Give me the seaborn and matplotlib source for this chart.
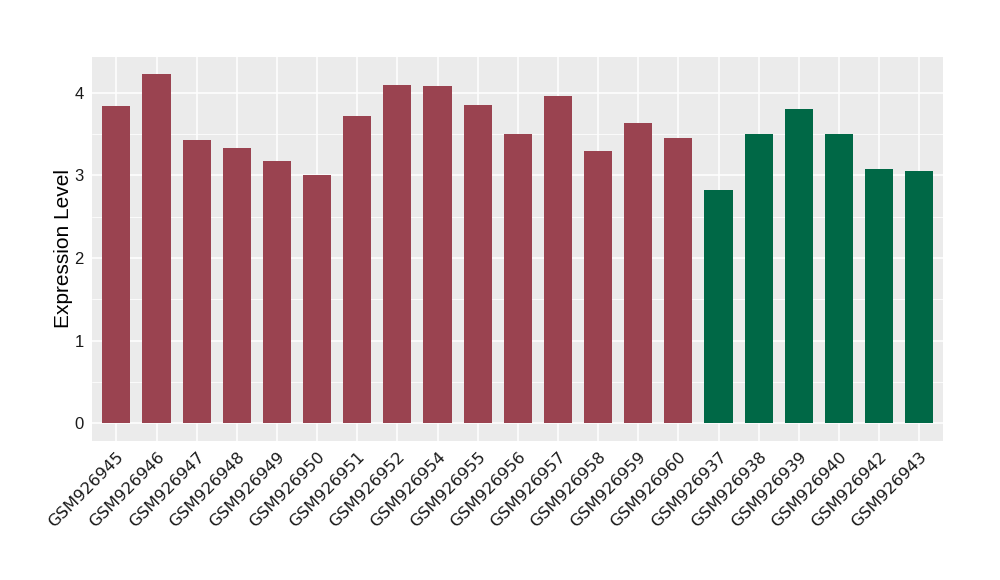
import matplotlib
matplotlib.use("Agg")
import matplotlib.pyplot as plt
from matplotlib.ticker import MultipleLocator
import seaborn as sns
import pandas as pd

samples = ["GSM926945", "GSM926946", "GSM926947", "GSM926948", "GSM926949", "GSM926950",
           "GSM926951", "GSM926952", "GSM926954", "GSM926955", "GSM926956", "GSM926957",
           "GSM926958", "GSM926959", "GSM926960", "GSM926937", "GSM926938", "GSM926939",
           "GSM926940", "GSM926942", "GSM926943"]
values = [3.84, 4.225, 3.43, 3.33, 3.17, 3.00, 3.72, 4.10, 4.08, 3.85, 3.50, 3.96,
          3.29, 3.64, 3.45, 2.82, 3.50, 3.80, 3.50, 3.08, 3.05]
groups = ["A"] * 15 + ["B"] * 6
group_colors = {"A": "#9A4350", "B": "#006846"}

df = pd.DataFrame({"sample": samples, "value": values, "group": groups})

sns.set_theme(style="darkgrid")
plt.rcParams["font.family"] = ["Liberation Sans", "DejaVu Sans"]

fig = plt.figure(figsize=(10, 5.8), dpi=100)
ax = fig.add_axes([0.0923, 0.2402, 0.851, 0.6620])
ax.set_facecolor("#EBEBEB")

sns.barplot(data=df, x="sample", y="value", hue="group", palette=group_colors,
            order=samples, width=0.7, dodge=False, legend=False, ax=ax,
            saturation=1, edgecolor="none", linewidth=0)

n = len(samples)
ax.set_xlim(-0.6, n - 1 + 0.6)
ymax = max(values)
ax.set_ylim(-0.05 * ymax, ymax * 1.05)
ax.yaxis.set_major_locator(MultipleLocator(1))
ax.yaxis.set_minor_locator(MultipleLocator(0.5))
ax.grid(which="major", color="white", linewidth=1.1)
ax.grid(which="minor", axis="y", color="white", linewidth=0.55)
ax.set_axisbelow(True)
for s in ax.spines.values():
    s.set_visible(False)

ax.tick_params(axis="both", which="major", length=3.5, width=0.8, color="#333333",
               labelcolor="#1A1A1A", pad=2.5)
ax.tick_params(axis="y", which="major", labelsize=12)
ax.tick_params(axis="both", which="minor", length=0)
ax.set_xticks(range(n))
ax.set_xticklabels(samples, rotation=45, ha="right", rotation_mode="anchor",
                   family=["DejaVu Sans"], fontsize=11.8)
ax.set_xlabel("")
ax.set_ylabel("Expression Level", fontsize=15, color="black", labelpad=1)

fig.savefig("out.png", dpi=100)
